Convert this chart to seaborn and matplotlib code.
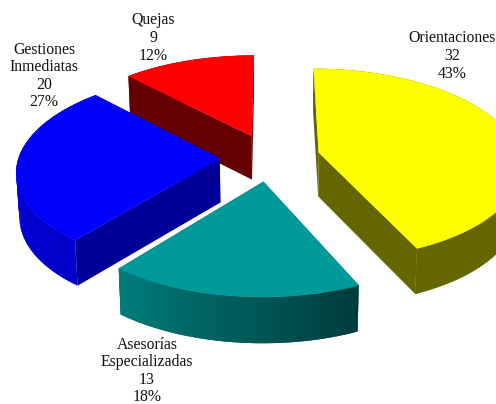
import numpy as np
import matplotlib
matplotlib.use("Agg")
import matplotlib.pyplot as plt
from matplotlib.patches import Polygon
import seaborn as sns

# Data (clockwise from the top of the pie)
categories = ["Orientaciones", "Asesorías\nEspecializadas", "Gestiones\nInmediatas", "Quejas"]
values = [32, 13, 20, 9]

# Styles
top_colors = ["#FFFF00", "#009999", "#0000FF", "#FF0000"]
face_colors = ["#666600", "#003C3C", "#000099", "#660000"]
rim_start = ["#666600", "#003C3C", "#0000C8", "#660000"]   # at the wedge's first angle (clockwise)
rim_end = ["#666600", "#007C7C", "#0000E6", "#660000"]     # at the wedge's last angle
label_xy = [(452, 56), (147, 371), (44, 76), (153, 38)]
draw_order = [3, 0, 2, 1]

# Projection parameters (pixels)
CX, CY = 270, 157.5
A, B, K = 201.0, 95.0, 0.12
DEPTH, DEPTH_K = 44.0, 0.04
VANISH = 0.013
EXPLODE = 0.25

sns.set_theme(style="white", rc={"font.family": ["Liberation Serif", "DejaVu Serif"]})


def project(x, y):
    w = 1 + K * y
    return CX + A * x / w, CY - B * y / w


def depth_at(y):
    return DEPTH / (1 + DEPTH_K * y)


def lower(x):
    # vertical edges lean slightly towards the vanishing point below the pie
    return x + (CX - x) * VANISH


fig = plt.figure(figsize=(4.96, 4.04), dpi=100)
ax = fig.add_axes([0, 0, 1, 1])
ax.set_xlim(0, 496)
ax.set_ylim(404, 0)
ax.axis("off")

total = sum(values)
edges = np.concatenate([[0], np.cumsum(values)]) / total * 2 * np.pi

for i in draw_order:
    t0, t1 = edges[i], edges[i + 1]
    tm = (t0 + t1) / 2
    ex, ey = EXPLODE * np.sin(tm), EXPLODE * np.cos(tm)
    ox, oy = project(ex, ey)
    n = max(int(np.degrees(t1 - t0)), 2)
    th = np.linspace(t0, t1, n + 1)
    rim_y = np.cos(th) + ey
    px, py = project(np.sin(th) + ex, rim_y)
    d_rim = depth_at(rim_y)
    d0 = depth_at(ey)
    qx = lower(px)

    # radial faces
    for j in (0, -1):
        face = [(ox, oy), (px[j], py[j]), (qx[j], py[j] + d_rim[j]), (lower(ox), oy + d0)]
        ax.add_patch(Polygon(face, closed=True, fc=face_colors[i], ec="none"))

    # rim as shaded strips, each overlapping the next so no seams show
    shades = sns.blend_palette([rim_start[i], rim_end[i]], n)
    for k in range(n):
        m = min(k + 2, n)
        strip = [(px[k], py[k]), (px[k + 1], py[k + 1]), (px[m], py[m]),
                 (qx[m], py[m] + d_rim[m]), (qx[k + 1], py[k + 1] + d_rim[k + 1]),
                 (qx[k], py[k] + d_rim[k])]
        ax.add_patch(Polygon(strip, closed=True, fc=shades[k], ec="none"))

    # top
    top = np.column_stack([np.r_[ox, px], np.r_[oy, py]])
    ax.add_patch(Polygon(top, closed=True, fc=top_colors[i], ec=top_colors[i], lw=0.3))

for name, v, (x, y) in zip(categories, values, label_xy):
    ax.text(x, y, f"{name}\n{v}\n{v / total * 100:.0f}%", ha="center", va="center",
            fontsize=11.3, color="#111111", linespacing=1.137)

fig.savefig("out.png", dpi=100, facecolor="white")
